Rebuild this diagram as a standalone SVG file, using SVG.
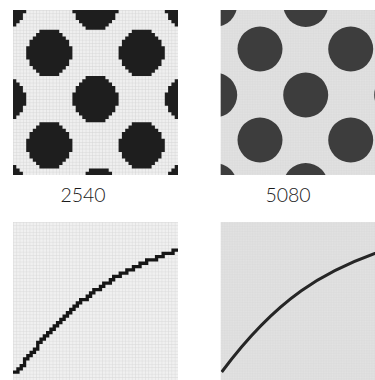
<svg xmlns="http://www.w3.org/2000/svg" xmlns:xlink="http://www.w3.org/1999/xlink" width="375" height="380" viewBox="0 0 375 380">
  <defs>
    <style>
      .label { font-family: "Lato", "Open Sans", "Liberation Sans", sans-serif; font-size: 19.5px; font-weight: 300; fill: #1a1a1a; text-anchor: middle; }
      .pix { fill: #1e1e1e; }
      .dot { fill: #3d3d3d; }
    </style>
    <pattern id="gridCoarse" width="3.3" height="3.3" patternUnits="userSpaceOnUse" x="13" y="10">
      <rect width="3.3" height="3.3" fill="#efefef"/>
      <path d="M0 0H3.3M0 0V3.3" stroke="#d2d2d2" stroke-width="0.8" fill="none"/>
    </pattern>
    <pattern id="gridCoarse2" width="3.3" height="3.3" patternUnits="userSpaceOnUse" x="13" y="222">
      <rect width="3.3" height="3.3" fill="#f0f0f0"/>
      <path d="M0 0H3.3M0 0V3.3" stroke="#d6d6d6" stroke-width="0.8" fill="none"/>
    </pattern>
    <pattern id="gridFine" width="1.65" height="1.65" patternUnits="userSpaceOnUse" x="220.7" y="10">
      <rect width="1.65" height="1.65" fill="#e2e2e2"/>
      <path d="M0 0H1.65M0 0V1.65" stroke="#d2d2d2" stroke-width="0.5" fill="none"/>
    </pattern>
    <path id="pixdot" class="pix" d="M-3,-7 H3 V-6 H4 V-5 H5 V-4 H6 V-2 H7 V2 H6 V4 H5 V5 H4 V6 H3 V7 H-3 V6 H-4 V5 H-5 V4 H-6 V2 H-7 V-2 H-6 V-4 H-5 V-5 H-4 V-6 H-3 Z"/>
    <clipPath id="clipTL"><rect x="13" y="10" width="165" height="165"/></clipPath>
    <clipPath id="clipTR"><rect x="220.7" y="10" width="165" height="165"/></clipPath>
    <clipPath id="clipBL"><rect x="13" y="222" width="165" height="158"/></clipPath>
    <clipPath id="clipBR"><rect x="220.7" y="222" width="165" height="158"/></clipPath>
  </defs>

  <rect width="375" height="380" fill="#ffffff"/>

  <g id="panel-2540">
    <rect x="13" y="10" width="165" height="165" fill="url(#gridCoarse)"/>
    <g clip-path="url(#clipTL)">
      <g transform="translate(13,10) scale(3.3)">
        <use xlink:href="#pixdot" x="11" y="13"/>
        <use xlink:href="#pixdot" x="39" y="13"/>
        <use xlink:href="#pixdot" x="25" y="27"/>
        <use xlink:href="#pixdot" x="11" y="41"/>
        <use xlink:href="#pixdot" x="39" y="41"/>
        <use xlink:href="#pixdot" x="25" y="-1"/>
        <use xlink:href="#pixdot" x="26" y="55"/>
        <use xlink:href="#pixdot" x="-3" y="27"/>
        <use xlink:href="#pixdot" x="53" y="27"/>
        <use xlink:href="#pixdot" x="-3" y="-1"/>
        <use xlink:href="#pixdot" x="53" y="-1"/>
        <use xlink:href="#pixdot" x="-2" y="54"/>
        <use xlink:href="#pixdot" x="52" y="54"/>
      </g>
    </g>
  </g>

  <g id="panel-5080">
    <rect x="220.7" y="10" width="165" height="165" fill="url(#gridFine)"/>
    <g clip-path="url(#clipTR)">
      <circle class="dot" cx="260" cy="49" r="22.5"/>
      <circle class="dot" cx="350.7" cy="49" r="22.5"/>
      <circle class="dot" cx="305.7" cy="95" r="22.5"/>
      <circle class="dot" cx="260" cy="140" r="22.5"/>
      <circle class="dot" cx="350.7" cy="140" r="22.5"/>
      <circle class="dot" cx="305.7" cy="4.5" r="22.5"/>
      <circle class="dot" cx="305.7" cy="185.5" r="22.5"/>
      <circle class="dot" cx="214.7" cy="95" r="22.5"/>
      <circle class="dot" cx="396.7" cy="95" r="22.5"/>
      <circle class="dot" cx="214.7" cy="4.5" r="22.5"/>
      <circle class="dot" cx="396.7" cy="4.5" r="22.5"/>
      <circle class="dot" cx="214.7" cy="185.5" r="22.5"/>
      <circle class="dot" cx="396.7" cy="185.5" r="22.5"/>
    </g>
  </g>

  <g id="label-2540"><text class="label" x="83" y="201.5">2540</text></g>
  <g id="label-5080"><text class="label" x="288" y="201.5">5080</text></g>

  <g id="panel-curve-2540">
    <rect x="13" y="222" width="165" height="158" fill="url(#gridCoarse2)"/>
    <g clip-path="url(#clipBL)">
      <g transform="translate(13,222) scale(3.3)">
        <path d="M0.5,45.5 H1.5 V44.5 H2.5 V43.5 H3.5 V41.5 H4.5 V40.5 H5.5 V39.5 H6.5 V38.5 H7.5 V36.5 H8.5 V35.5 H9.5 V34.5 H10.5 V33.5 H11.5 V32.5 H12.5 V31.5 H13.5 V30.5 H14.5 V29.5 H15.5 V28.5 H16.5 V27.5 H17.5 V26.5 H18.5 V25.5 H19.5 V24.5 H20.5 V23.5 H22.5 V22.5 H23.5 V21.5 H24.5 V20.5 H26.5 V19.5 H27.5 V18.5 H29.5 V17.5 H30.5 V16.5 H32.5 V15.5 H34.5 V14.5 H36.5 V13.5 H38.5 V12.5 H40.5 V11.5 H43.5 V10.5 H45.5 V9.5 H48.5 V8.5 H49.5" fill="none" stroke="#161616" stroke-width="1" stroke-linecap="square" stroke-linejoin="miter"/>
      </g>
    </g>
  </g>

  <g id="panel-curve-5080">
    <rect x="220.7" y="222" width="165" height="158" fill="url(#gridFine)"/>
    <g clip-path="url(#clipBR)">
      <path d="M221.7,372 C276.7,298 324.7,270 384.7,250" fill="none" stroke="#262626" stroke-width="3"/>
    </g>
  </g>
</svg>
